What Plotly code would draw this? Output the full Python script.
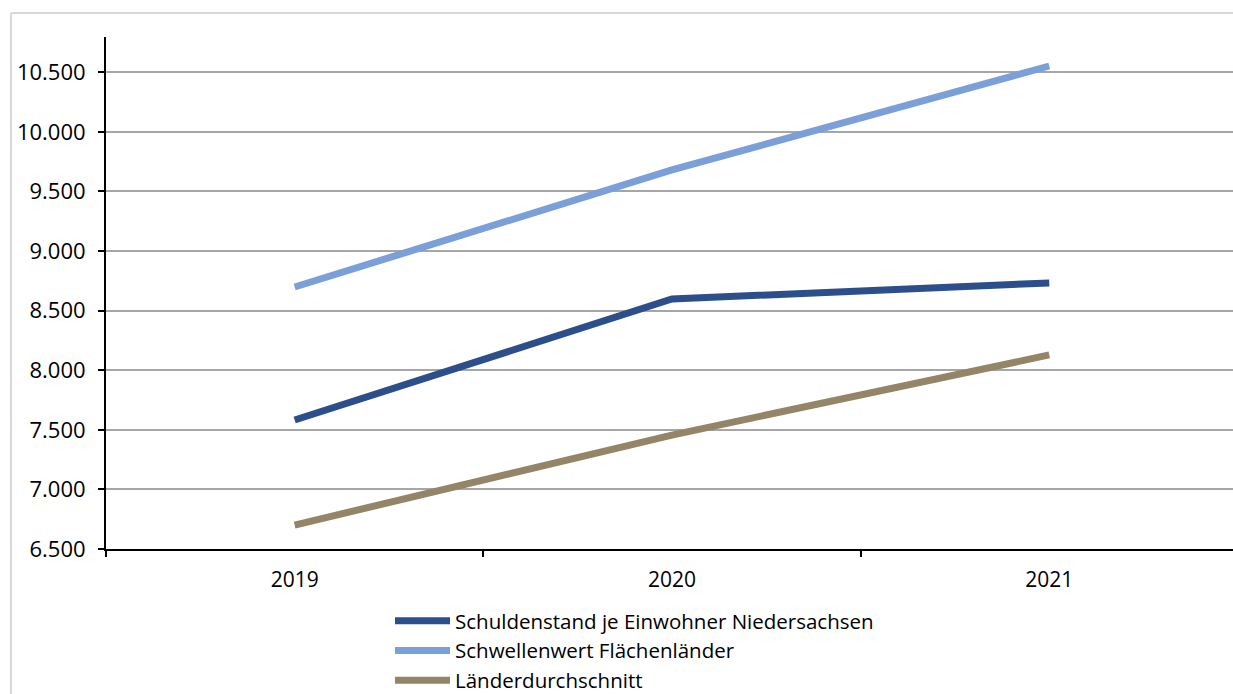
import plotly.graph_objects as go

years = ["2019", "2020", "2021"]
schuldenstand = [7582, 8597, 8732]
schwellenwert = [8698, 9680, 10552]
laenderdurchschnitt = [6701, 7456, 8128]
y_ticks = [6500, 7000, 7500, 8000, 8500, 9000, 9500, 10000, 10500]

series = [
    ("Schuldenstand je Einwohner Niedersachsen", schuldenstand, "#2c4f8c"),
    ("Schwellenwert Flächenländer", schwellenwert, "#7b9fd8"),
    ("Länderdurchschnitt", laenderdurchschnitt, "#948468"),
]

W, H = 1233, 694
L, T, B, R = 106, 37, 549, 1233
pw, ph = R - L, B - T

xs = list(range(len(years)))
fig = go.Figure()
for name, vals, col in series:
    fig.add_trace(go.Scatter(x=xs, y=vals, name=name, mode="lines",
                             line=dict(color=col, width=7)))

font = "Open Sans, Noto Sans, sans-serif"
xmax = -0.5 + pw / 377.3

fig.update_layout(
    width=W, height=H,
    margin=dict(l=L, r=W - R, t=T, b=H - B, autoexpand=False),
    paper_bgcolor="white", plot_bgcolor="white",
    separators=",.",
    font=dict(family=font, size=21, color="black"),
    showlegend=True,
    legend=dict(x=(390 - L) / pw, y=(B - 601) / ph, xanchor="left", yanchor="top",
                font=dict(size=20.5), itemwidth=55, tracegroupgap=0,
                bgcolor="rgba(0,0,0,0)"),
    xaxis=dict(range=[-0.5, xmax], tickvals=xs, ticktext=years, ticks="",
               showgrid=False, zeroline=False, showline=True, linecolor="black",
               linewidth=2, ticklabelstandoff=11, tickfont=dict(size=21),
               minor=dict(tickvals=[-0.5, 0.5, 1.5, 2.5], ticks="outside",
                          ticklen=6, tickcolor="black", tickwidth=1.5, showgrid=False)),
    yaxis=dict(range=[6500, 6500 + (B - T) / 59.6 * 500], tickvals=y_ticks,
               tickformat=",d", ticks="outside", ticklen=6, tickcolor="black",
               tickwidth=1.5, showgrid=True, gridcolor="#a6a6a6", gridwidth=1.5,
               zeroline=False, showline=True, linecolor="black", linewidth=2,
               ticklabelstandoff=8, tickfont=dict(size=22)),
    shapes=[
        dict(type="line", xref="paper", yref="paper",
             x0=(11 - L) / pw, x1=(1240 - L) / pw,
             y0=(B - 13) / ph, y1=(B - 13) / ph,
             line=dict(color="#d9d9d9", width=2)),
        dict(type="line", xref="paper", yref="paper",
             x0=(11 - L) / pw, x1=(11 - L) / pw,
             y0=(B - 13) / ph, y1=(B - 700) / ph,
             line=dict(color="#d9d9d9", width=2)),
    ],
)

fig.write_html("out.html")
